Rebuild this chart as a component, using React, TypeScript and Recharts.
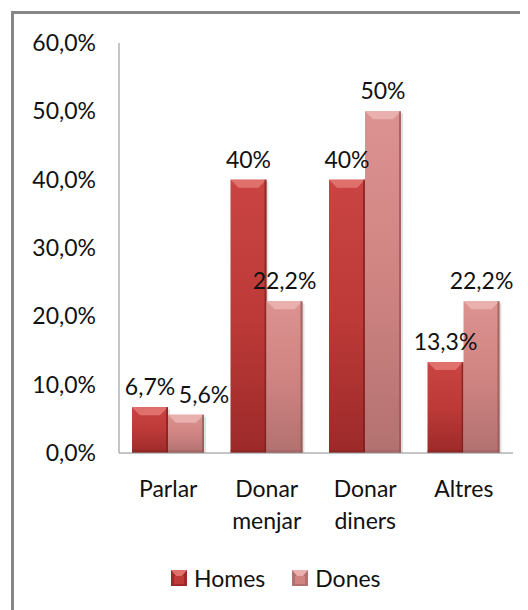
import React from "react";
import { BarChart, Bar, XAxis, YAxis, Legend, LabelList } from "recharts";

const categories = ["Parlar", "Donar menjar", "Donar diners", "Altres"];
const homes = [6.7, 40, 40, 13.3];
const dones = [5.6, 22.2, 50, 22.2];
const yTicks = [0, 10, 20, 30, 40, 50, 60];

const data = categories.map((name, i) => ({ name, homes: homes[i], dones: dones[i] }));

const FONT = "Lato, 'Open Sans', sans-serif";
const FS = 23;

const fmtTick = (v: number) => v.toFixed(1).replace(".", ",") + "%";
const fmtLabel = (v: any) => {
  const n = Number(v);
  return (Number.isInteger(n) ? String(n) : n.toFixed(1).replace(".", ",")) + "%";
};

const palette: Record<string, { top: string; mid: string; bot: string; bevel: string; edge: string }> = {
  homes: { top: "#c94442", mid: "#bd3a38", bot: "#9c2a29", bevel: "#e0706c", edge: "#7a1f1e" },
  dones: { top: "#dc9290", mid: "#cf8482", bot: "#b27170", bevel: "#eab0ae", edge: "#8e5554" },
};

const makeShape = (key: string) => (props: any) => {
  const { x, y, width: w, height: h } = props;
  if (!h || h <= 0) return null;
  const c = palette[key];
  const b = Math.min(8, h / 2);
  return (
    <g>
      <rect x={x + 2} y={y + 2} width={w} height={h - 2} fill="#000" opacity={0.12} />
      <rect x={x} y={y} width={w} height={h} fill={`url(#grad-${key})`} />
      <polygon points={`${x},${y} ${x + w},${y} ${x + w - 8},${y + b} ${x + 8},${y + b}`} fill={c.bevel} />
      <rect x={x + w - 2} y={y} width={2} height={h} fill={c.edge} opacity={0.7} />
      <rect x={x} y={y + h - 3} width={w} height={3} fill={c.edge} opacity={0.35} />
    </g>
  );
};

// data label; the Dones label is pushed right when it would collide with the Homes one
const makeLabel = (series: "homes" | "dones") => (props: any) => {
  const { x, y, width, value, index } = props;
  let cx = x + width / 2;
  if (series === "dones" && Math.abs(homes[index] - dones[index]) < 5) cx += 18;
  return (
    <text x={cx} y={y - 12} textAnchor="middle" fill="#111" fontSize={FS} fontFamily={FONT}>
      {fmtLabel(value)}
    </text>
  );
};

const XTick = (props: any) => {
  const { x, y, payload } = props;
  const lines = String(payload.value).split(" ");
  return (
    <text x={x} y={y} textAnchor="middle" fill="#111" fontSize={FS} fontFamily={FONT}>
      {lines.map((l, i) => (
        <tspan key={i} x={x} dy={i === 0 ? 42 : 32}>
          {l}
        </tspan>
      ))}
    </text>
  );
};

const LegendSwatch = ({ k }: { k: string }) => {
  const c = palette[k];
  return (
    <svg width={16} height={16} style={{ display: "block" }}>
      <rect x={0} y={0} width={16} height={16} fill={c.bot} />
      <polygon points="0,0 16,0 11,6 5,6" fill={c.bevel} />
      <rect x={3} y={6} width={10} height={8} fill={c.mid} />
    </svg>
  );
};

const LegendContent = () => (
  <div style={{ height: 57, position: "relative", fontFamily: FONT, fontSize: FS, color: "#111" }}>
    <div style={{ position: "absolute", left: 163, top: 17, display: "flex", alignItems: "center" }}>
      <LegendSwatch k="homes" />
      <span style={{ marginLeft: 7, lineHeight: "16px" }}>Homes</span>
      <span style={{ width: 27 }} />
      <LegendSwatch k="dones" />
      <span style={{ marginLeft: 7, lineHeight: "16px" }}>Dones</span>
    </div>
  </div>
);

export default function App() {
  return (
    <div style={{ position: "relative", width: 520, height: 602 }}>
      <div
        style={{
          position: "absolute",
          left: 3,
          top: 3,
          width: 517,
          height: 599,
          borderLeft: "3px solid #878787",
          borderTop: "3px solid #878787",
          boxSizing: "border-box",
        }}
      />
      <div style={{ position: "absolute", left: 0, top: 0 }}>
        <BarChart
          width={520}
          height={602}
          data={data}
          margin={{ top: 35, right: 15, left: 0, bottom: 0 }}
          barGap={0}
          barSize={36}
        >
          <defs>
            {Object.keys(palette).map((k) => (
              <linearGradient key={k} id={`grad-${k}`} x1="0" y1="0" x2="0" y2="1">
                <stop offset="0%" stopColor={palette[k].top} />
                <stop offset="50%" stopColor={palette[k].mid} />
                <stop offset="100%" stopColor={palette[k].bot} />
              </linearGradient>
            ))}
          </defs>
          <YAxis
            width={111}
            domain={[0, 60]}
            ticks={yTicks}
            tickFormatter={fmtTick}
            tickLine={false}
            tickSize={0}
            tickMargin={23}
            axisLine={{ stroke: "#8c8c8c" }}
            tick={{ fill: "#111", fontSize: FS, fontFamily: FONT }}
            interval={0}
          />
          <XAxis
            dataKey="name"
            height={100}
            tickLine={false}
            tickSize={0}
            axisLine={{ stroke: "#8c8c8c" }}
            tick={<XTick />}
            interval={0}
          />
          <Legend verticalAlign="bottom" content={<LegendContent />} />
          <Bar dataKey="homes" name="Homes" fill="#bd3a38" shape={makeShape("homes")} isAnimationActive={false}>
            <LabelList dataKey="homes" content={makeLabel("homes")} />
          </Bar>
          <Bar dataKey="dones" name="Dones" fill="#cf8482" shape={makeShape("dones")} isAnimationActive={false}>
            <LabelList dataKey="dones" content={makeLabel("dones")} />
          </Bar>
        </BarChart>
      </div>
    </div>
  );
}
